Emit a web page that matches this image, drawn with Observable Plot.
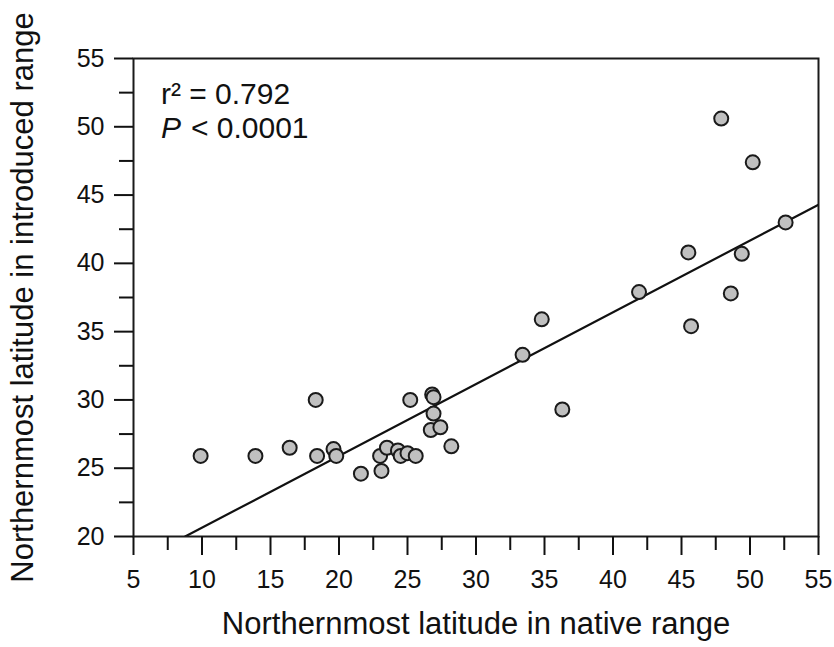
<!DOCTYPE html>
<html>
<head>
<meta charset="utf-8">
<script src="https://cdn.jsdelivr.net/npm/d3@7"></script>
<script src="https://cdn.jsdelivr.net/npm/@observablehq/plot@0.6"></script>
<style>
  html, body { margin: 0; padding: 0; background: #fff; }
  #chart svg { display: block; }
</style>
</head>
<body>
<div id="chart"></div>
<script>
// Northernmost latitude in native range (x) vs introduced range (y)
const nativeLat = [9.9, 13.9, 16.4, 18.3, 18.4, 19.6, 19.8, 21.6, 23.0, 23.1, 23.5, 24.3, 24.5, 25.0, 25.6, 25.2, 26.8, 26.9, 26.9, 26.7, 27.4, 28.2, 33.4, 34.8, 36.3, 41.9, 45.7, 48.6, 47.9, 50.2, 52.6, 45.5, 49.4];
const introducedLat = [25.9, 25.9, 26.5, 30.0, 25.9, 26.4, 25.9, 24.6, 25.9, 24.8, 26.5, 26.3, 25.9, 26.1, 25.9, 30.0, 30.4, 30.2, 29.0, 27.8, 28.0, 26.6, 33.3, 35.9, 29.3, 37.9, 35.4, 37.8, 50.6, 47.4, 43.0, 40.8, 40.7];

// Regression line as printed
const fitIntercept = 15.39;
const fitSlope = 0.5256;
const fitXRange = [8.77, 55];

const xTicks = [5, 10, 15, 20, 25, 30, 35, 40, 45, 50, 55];
const xMinorTicks = [7.5, 12.5, 17.5, 22.5, 27.5, 32.5, 37.5, 42.5, 47.5, 52.5];
const yTicks = [20, 25, 30, 35, 40, 45, 50, 55];
const yMinorTicks = [22.5, 27.5, 32.5, 37.5, 42.5, 47.5, 52.5];

const xTitle = "Northernmost latitude in native range";
const yTitle = "Northernmost latitude in introduced range";
const r2Text = "r\u00B2 = 0.792";
const pSymbol = "P";
const pText = "< 0.0001";

const points = nativeLat.map((x, i) => ({x, y: introducedLat[i]}));
const fitLine = fitXRange.map(x => ({x, y: fitIntercept + fitSlope * x}));

const font = "'Liberation Sans', Arial, Helvetica, sans-serif";

const chart = Plot.plot({
  width: 834,
  height: 647,
  marginLeft: 133,
  marginRight: 16,
  marginTop: 58,
  marginBottom: 111,
  style: {fontFamily: font, background: "#fff", color: "#111"},
  x: {domain: [5, 55]},
  y: {domain: [20, 55]},
  marks: [
    Plot.frame({stroke: "#1a1a1a", strokeWidth: 2}),
    Plot.axisX({ticks: xTicks, tickSize: 19, tickPadding: 15, fontSize: 25, strokeWidth: 2, label: null, tickFormat: d => String(d)}),
    Plot.axisX({ticks: xMinorTicks, tickSize: 14, strokeWidth: 2, label: null, tickFormat: () => ""}),
    Plot.axisY({ticks: yTicks, tickSize: 19, tickPadding: 10, fontSize: 25, strokeWidth: 2, label: null, tickFormat: d => String(d)}),
    Plot.axisY({ticks: yMinorTicks, tickSize: 14, strokeWidth: 2, label: null, tickFormat: () => ""}),
    Plot.line(fitLine, {x: "x", y: "y", stroke: "#111", strokeWidth: 2.2, clip: true}),
    Plot.dot(points, {x: "x", y: "y", r: 7, fill: "#c0c0c0", stroke: "#1a1a1a", strokeWidth: 2}),
    Plot.text([r2Text], {x: 7, y: 52.38, textAnchor: "start", lineAnchor: "middle", fontSize: 30, fill: "#111"}),
    Plot.text([pSymbol], {x: 7, y: 49.89, textAnchor: "start", lineAnchor: "middle", fontSize: 30, fontStyle: "italic", fill: "#111"}),
    Plot.text([pText], {x: 7, y: 49.89, dx: 30, textAnchor: "start", lineAnchor: "middle", fontSize: 30, fill: "#111"}),
    Plot.text([xTitle], {frameAnchor: "bottom", dy: 88, textAnchor: "middle", lineAnchor: "middle", fontSize: 31, fill: "#111"}),
    Plot.text([yTitle], {frameAnchor: "left", dx: -110, rotate: -90, textAnchor: "middle", lineAnchor: "middle", fontSize: 31, fill: "#111"})
  ]
});

document.getElementById("chart").appendChild(chart);
</script>
</body>
</html>
